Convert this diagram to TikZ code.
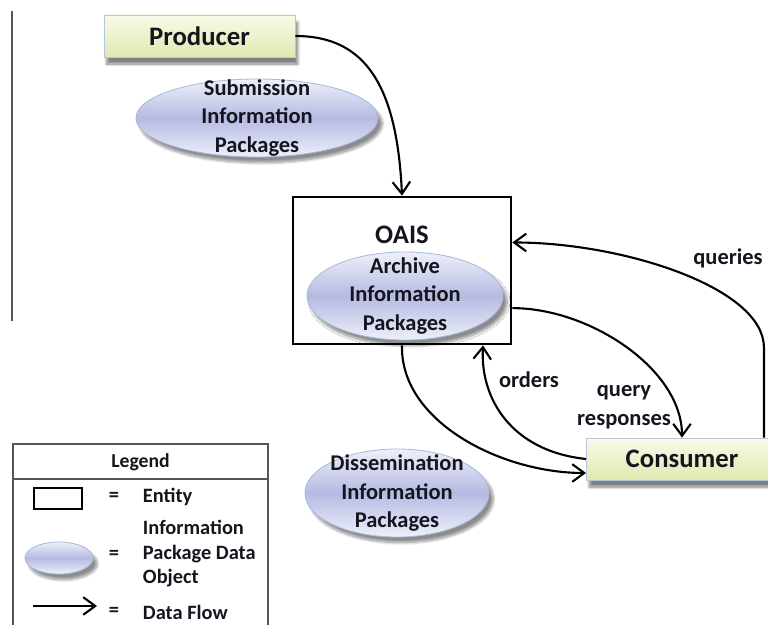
\documentclass[tikz,border=0pt]{standalone}
\usepackage{fontspec}
\setmainfont{Carlito}
\usepackage{xcolor}
\usetikzlibrary{shapes.geometric, arrows.meta, shadows.blur, positioning, calc}

\definecolor{boxtop}{HTML}{FAFAE8}
\definecolor{boxbot}{HTML}{DFE9B0}
\definecolor{boxline}{HTML}{B4C6DC}
\definecolor{elltop}{HTML}{EEF0FA}
\definecolor{ellmid}{HTML}{B6BAE2}
\definecolor{ellbot}{HTML}{EDF0FA}
\definecolor{ellline}{HTML}{A6BCD6}
\definecolor{inktext}{HTML}{15151F}
\definecolor{legline}{HTML}{555555}

\tikzset{
  actor/.style={draw=boxline, line width=0.6pt, top color=boxtop, bottom color=boxbot,
    minimum width=4.775cm, minimum height=1.05cm, text=inktext,
    font=\fontsize{19}{22}\selectfont\bfseries,
    blur shadow={shadow xshift=2pt, shadow yshift=-5pt, shadow blur steps=10, shadow opacity=50}},
  package/.style={ellipse, draw=ellline, line width=0.6pt, top color=elltop, bottom color=ellbot,
    middle color=ellmid, inner sep=0pt,
    blur shadow={shadow xshift=3pt, shadow yshift=-4pt, shadow blur steps=10, shadow opacity=45}},
  pkgtext/.style={align=center, text=inktext, font=\fontsize{16}{20}\selectfont\bfseries},
  entity/.style={draw=black, line width=1.9pt, fill=white},
  flow/.style={line width=1.5pt, -{Straight Barb[length=3mm, width=4.4mm]}},
  flowlabel/.style={align=center, text=inktext, font=\fontsize{16}{20.5}\selectfont\bfseries},
  legtext/.style={align=left, anchor=west, text=inktext, font=\fontsize{14.5}{17.4}\selectfont\bfseries}
}

\begin{document}
\begin{tikzpicture}[x=0.025cm, y=-0.025cm]
  \useasboundingbox (0,0) rectangle (768,624);

  \draw[legline, line width=1pt] (12,11) -- (12,321);

  % entities and packages
  \node[actor] (producer) at (199.5,36) {Producer};
  \node[package, minimum width=6.05cm, minimum height=1.95cm] (sip) at (257,118) {};
  \node[pkgtext] (siptext) at (sip) {Submission\\Information\\Packages};

  \node[entity, minimum width=5.45cm, minimum height=3.675cm] (oais) at (402,270.5) {};
  \node[text=inktext, font=\fontsize{19}{22}\selectfont\bfseries] (oaistitle) at (402,235) {OAIS};
  \node[package, minimum width=4.9cm, minimum height=2.2cm] (aip) at (405,296) {};
  \node[pkgtext] (aiptext) at (aip) {Archive\\Information\\Packages};

  \node[actor] (consumer) at (682,459) {Consumer};
  \node[package, minimum width=4.6cm, minimum height=2.2cm] (dip) at (397,493) {};
  \node[pkgtext] (diptext) at (dip) {Dissemination\\Information\\Packages};

  % data flows
  \draw[flow] (producer.east) .. controls +(70,0) and +(-5,-110) .. (oais.north);
  \draw[flow] ([xshift=-0.35cm]consumer.north east) -- ++(0,-90)
    .. controls +(0,-60) and +(110,0) .. ([yshift=0.7cm]oais.east);
  \draw[flow] ([yshift=-0.94cm]oais.east) .. controls +(78,0) and +(0,-68) .. (consumer.north);
  \draw[flow] (consumer.west) .. controls +(-75,-8) and +(-3,53) .. ([xshift=2.025cm]oais.south);
  \draw[flow] (oais.south) .. controls +(-2,76) and +(-85,0) .. ([yshift=-0.35cm]consumer.west);

  \node[flowlabel] (querieslabel) at (728,258) {queries};
  \node[flowlabel] (orderslabel) at (529,380) {orders};
  \node[flowlabel] (responseslabel) at (624,407) {query\\responses};

  % legend
  \draw[legline, line width=0.9pt] (13,444) rectangle (268,640);
  \draw[legline, line width=0.9pt] (13,479) -- (268,479);
  \node[text=inktext, font=\fontsize{14}{17}\selectfont\bfseries] (legend) at (140.5,462) {Legend};

  \node[entity, line width=1.4pt, minimum width=1.2cm, minimum height=0.525cm] (entitykey) at (58,498.5) {};
  \node[legtext, anchor=center] (eqentity) at (114,497) {=};
  \node[legtext] (entitytext) at (138,497) {Entity};

  \node[package, minimum width=1.7cm, minimum height=0.8cm] (pkgkey) at (59,558) {};
  \node[legtext, anchor=center] (eqpkg) at (114,555) {=};
  \node[legtext] (pkgtext) at (138,554) {Information\\Package Data\\Object};

  \coordinate (flowstart) at (33,606);
  \coordinate (flowend) at (97,606);
  \draw[flow] (flowstart) -- (flowend);
  \node[legtext, anchor=center] (eqflow) at (114,612) {=};
  \node[legtext] (flowtext) at (138,612) {Data Flow};
\end{tikzpicture}
\end{document}
